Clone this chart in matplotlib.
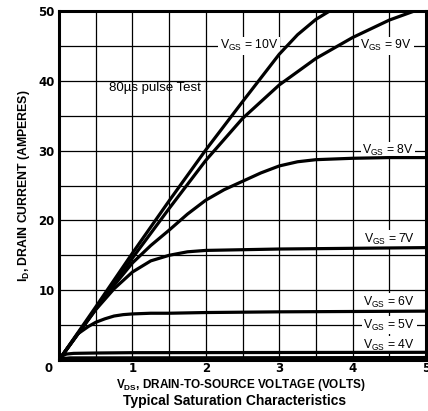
import matplotlib
matplotlib.use("Agg")
import matplotlib.pyplot as plt
from matplotlib.ticker import MultipleLocator

plt.rcParams['font.family'] = ['Liberation Sans', 'DejaVu Sans']
plt.rcParams['mathtext.default'] = 'regular'

# curves
vds_10 = [0, 0.5, 1, 1.5, 2, 2.5, 2.75, 3, 3.25, 3.5, 3.75, 4]
id_10 = [0, 7.6, 15.3, 22.8, 30.1, 37.0, 40.4, 43.8, 46.6, 48.8, 50.4, 51.8]

vds_9 = [0, 0.5, 1, 1.5, 2, 2.5, 3, 3.5, 4, 4.5, 5]
id_9 = [0, 7.3, 14.6, 21.7, 28.6, 34.6, 39.4, 43.2, 46.2, 48.7, 50.6]

vds_8 = [0, 0.5, 0.75, 1, 1.25, 1.5, 1.75, 2, 2.25, 2.5, 2.75, 3, 3.25, 3.5, 4, 4.5, 5]
id_8 = [0, 7.3, 10.7, 13.9, 16.4, 18.6, 20.9, 22.9, 24.4, 25.6, 26.8, 27.8, 28.4, 28.7, 28.9, 29.0, 29.0]

vds_7 = [0, 0.5, 0.75, 1, 1.25, 1.5, 1.75, 2, 2.5, 3, 4, 5]
id_7 = [0, 7.2, 10.2, 12.6, 14.2, 15.0, 15.5, 15.7, 15.8, 15.9, 16.0, 16.1]

vds_6 = [0, 0.25, 0.4, 0.5, 0.625, 0.75, 0.875, 1, 1.25, 1.5, 2, 3, 5]
id_6 = [0, 3.7, 4.8, 5.4, 5.9, 6.3, 6.5, 6.6, 6.7, 6.7, 6.8, 6.9, 7.0]

vds_5 = [0, 0.05, 0.1, 0.2, 0.5, 1, 5]
id_5 = [0, 0.6, 0.85, 0.95, 1.0, 1.05, 1.1]

vds_4 = [0, 0.05, 0.15, 5]
id_4 = [0, 0.2, 0.3, 0.35]

curves = [(vds_10, id_10), (vds_9, id_9), (vds_8, id_8), (vds_7, id_7),
          (vds_6, id_6), (vds_5, id_5), (vds_4, id_4)]

# curve labels: text, x, y
labels = [("V$_{GS}$ = 10V", 2.59, 45), ("V$_{GS}$ = 9V", 4.46, 45),
          ("V$_{GS}$ = 8V", 4.48, 30), ("V$_{GS}$ = 7V", 4.5, 17.3),
          ("V$_{GS}$ = 6V", 4.5, 8.3), ("V$_{GS}$ = 5V", 4.5, 5),
          ("V$_{GS}$ = 4V", 4.5, 2.1)]

fig = plt.figure(figsize=(4.28, 4.11), dpi=100)
ax = fig.add_axes([59/428, 51/411, 367/428, 349/411])

ax.set_xlim(0, 5)
ax.set_ylim(0, 50)
ax.xaxis.set_major_locator(MultipleLocator(1))
ax.xaxis.set_minor_locator(MultipleLocator(0.5))
ax.yaxis.set_major_locator(MultipleLocator(10))
ax.yaxis.set_minor_locator(MultipleLocator(5))
ax.grid(which='both', color='black', linewidth=0.9)
ax.set_axisbelow(True)

for x, y in curves:
    ax.plot(x, y, color='black', linewidth=2.3, solid_capstyle='butt', zorder=3)

for txt, x, y in labels:
    ax.text(x, y, txt, fontsize=8.8, ha='center', va='center', zorder=2,
            bbox=dict(facecolor='white', edgecolor='none', pad=1.0))

ax.text(1.31, 39, "80\u00b5s pulse Test", fontsize=9.5, ha='center', va='center')

for s in ax.spines.values():
    s.set_linewidth(2.2)

ax.tick_params(axis='y', which='both', length=0, labelsize=8.5, pad=3)
ax.tick_params(axis='x', which='both', length=0, labelsize=8.5, pad=1.5)
ax.set_xticks([1, 2, 3, 4, 5])
ax.set_yticks([10, 20, 30, 40, 50])
for t in ax.get_xticklabels() + ax.get_yticklabels():
    t.set_fontweight('bold')
    t.set_family('DejaVu Sans')
ax.text(-0.136, -1.2, "0", fontsize=8.5, fontweight='bold', family='DejaVu Sans',
        ha='center', va='center', clip_on=False)

ax.set_ylabel("I$_D$, DRAIN CURRENT (AMPERES)", fontsize=8.8,
              fontweight='bold', labelpad=5)
fig.text(241/428, 1 - 385/411, "V$_{DS}$, DRAIN-TO-SOURCE VOLTAGE (VOLTS)",
         fontsize=8.5, fontweight='bold', ha='center', va='center')
fig.text(235/428, 1 - 401/411, "Typical Saturation Characteristics", fontsize=10,
         fontweight='bold', ha='center', va='center')

fig.savefig("out.png", dpi=100)
